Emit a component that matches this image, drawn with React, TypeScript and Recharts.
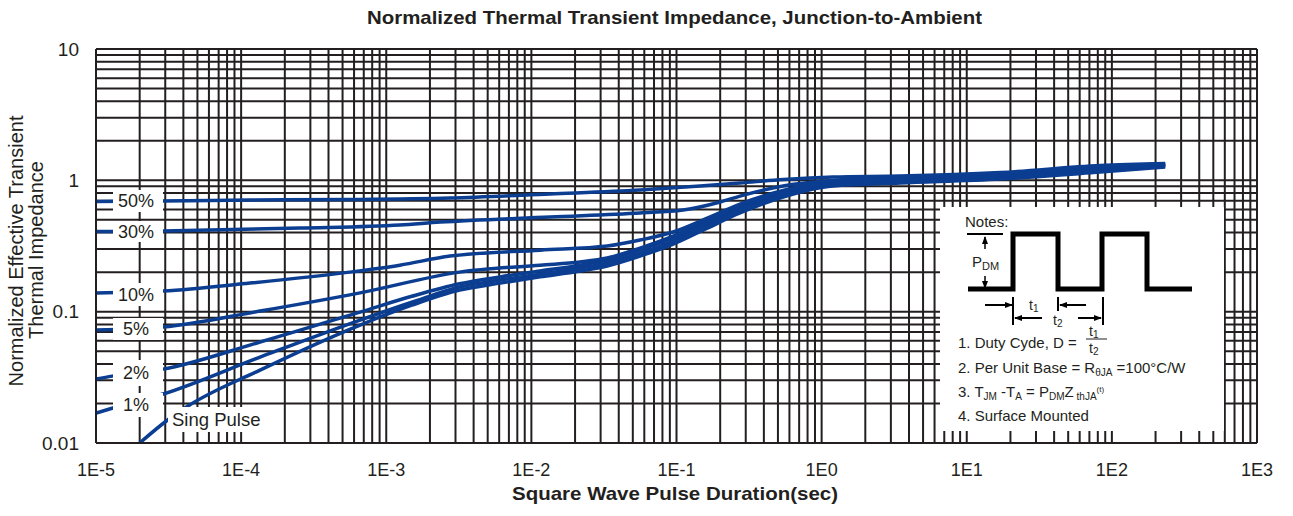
import React from 'react'
import { LineChart, Line, XAxis, YAxis, CartesianGrid } from 'recharts'

type Pt = [number, number]

// pulse duration (s), normalized Zth
const singlePulse: Pt[] = [
  [2.0e-5, 0.01], [3.1e-5, 0.0149], [4.2e-5, 0.0188], [1.35e-4, 0.0359], [6.6e-4, 0.0791],
  [1.5e-3, 0.112], [3.2e-3, 0.146], [6.1e-3, 0.165], [0.0115, 0.184], [0.0217, 0.204], [0.0333, 0.223],
  [0.0561, 0.265], [0.0948, 0.327], [0.163, 0.433], [0.274, 0.564], [0.543, 0.746],
  [1.2, 0.905], [3.48, 0.954], [17, 1.023], [83, 1.157], [233, 1.263],
]
const duty1: Pt[] = [
  [1e-5, 0.0169], [1.29e-5, 0.0184], [2.9e-5, 0.0236], [1.35e-4, 0.0451], [6.6e-4, 0.0863],
  [1.5e-3, 0.118], [3.2e-3, 0.154], [6.1e-3, 0.174], [0.0115, 0.193], [0.0217, 0.215], [0.0333, 0.235],
  [0.0561, 0.279], [0.0948, 0.345], [0.163, 0.457], [0.274, 0.594], [0.543, 0.773],
  [1.2, 0.929], [3.48, 0.979], [17, 1.05], [83, 1.188], [233, 1.285],
]
const duty2: Pt[] = [
  [1e-5, 0.0307], [1.29e-5, 0.0323], [2.9e-5, 0.0365], [1.35e-4, 0.0587], [6.6e-4, 0.0993],
  [1.5e-3, 0.131], [3.2e-3, 0.163], [6.1e-3, 0.184], [0.0115, 0.204], [0.0217, 0.226], [0.0333, 0.247],
  [0.0561, 0.295], [0.0948, 0.364], [0.163, 0.481], [0.274, 0.626], [0.543, 0.8],
  [1.2, 0.954], [3.48, 1.005], [17, 1.078], [83, 1.219], [233, 1.308],
]
const duty5: Pt[] = [
  [1e-5, 0.0724], [2.9e-5, 0.0763], [1.35e-4, 0.101], [6.6e-4, 0.139], [3.2e-3, 0.2],
  [0.0115, 0.226], [0.0217, 0.239], [0.0333, 0.256], [0.0561, 0.305], [0.0948, 0.376],
  [0.163, 0.498], [0.274, 0.643], [0.543, 0.815], [1.2, 0.962], [3.48, 1.014],
  [17, 1.088], [83, 1.23], [233, 1.308],
]
const duty10: Pt[] = [
  [1e-5, 0.139], [2.9e-5, 0.1435], [1.15e-4, 0.165], [5.6e-4, 0.2], [1.24e-3, 0.226],
  [2.75e-3, 0.265], [0.0115, 0.294], [0.0333, 0.316], [0.0561, 0.351], [0.0948, 0.404],
  [0.163, 0.516], [0.274, 0.66], [0.543, 0.836], [1.2, 0.979], [3.48, 1.032],
  [17, 1.107], [83, 1.252], [233, 1.319],
]
const duty30: Pt[] = [
  [1e-5, 0.407], [2.9e-5, 0.411], [2.55e-4, 0.433], [1.24e-3, 0.457], [2.35e-3, 0.481],
  [0.01345, 0.526], [0.0561, 0.564], [0.111, 0.594], [0.2, 0.684], [0.274, 0.759],
  [0.543, 0.905], [1.2, 0.997], [3.48, 1.05], [17, 1.127], [83, 1.274], [233, 1.331],
]
const duty50: Pt[] = [
  [1e-5, 0.6895], [2.9e-5, 0.6955], [1.15e-4, 0.708], [5.6e-4, 0.714], [2.75e-3, 0.733],
  [0.01345, 0.787], [0.0561, 0.8435], [0.1455, 0.905], [0.274, 0.954], [0.543, 1.014],
  [1.2, 1.06], [3.48, 1.078], [17, 1.147], [83, 1.296], [233, 1.343],
]

const curves = [singlePulse, duty1, duty2, duty5, duty10, duty30, duty50]

const xDecades = [-5, -4, -3, -2, -1, 0, 1, 2]
const yDecades = [-2, -1, 0]
const steps = [1, 2, 3, 4, 5, 6, 7, 8, 9]
const gridX = [...xDecades.flatMap((d) => steps.map((k) => k * 10 ** d)), 1000]
const gridY = [...yDecades.flatMap((d) => steps.map((k) => k * 10 ** d)), 10]

const INK = '#231f20'
const BLUE = '#0b3d91'
const FONT = "'Liberation Sans', Arial, Helvetica, sans-serif"

const isDecade = (v: number) => {
  const l = Math.log10(v)
  return Math.abs(l - Math.round(l)) < 1e-6
}
const fmtX = (v: number) => (isDecade(v) ? `1E${Math.round(Math.log10(v))}` : '')
const fmtY = (v: number) => (isDecade(v) ? String(+v.toPrecision(1)) : '')

const curveLabels = [
  { text: '50%', x: 113, y: 190, w: 50, h: 22 },
  { text: '30%', x: 113, y: 221, w: 50, h: 21 },
  { text: '10%', x: 113, y: 283, w: 50, h: 23 },
  { text: '5%', x: 113, y: 318, w: 50, h: 22 },
  { text: '2%', x: 113, y: 360, w: 50, h: 26 },
  { text: '1%', x: 113, y: 393, w: 50, h: 24 },
]

function Overlay() {
  return (
    <svg width={1293} height={516} style={{ position: 'absolute', left: 0, top: 0, pointerEvents: 'none' }} fontFamily={FONT}>
      <defs>
        <marker id="ah" markerWidth="8" markerHeight="8" refX="7" refY="4" orient="auto" markerUnits="userSpaceOnUse">
          <path d="M0,1 L8,4 L0,7 z" fill="#000" />
        </marker>
      </defs>

      <text x={367} y={24} fontSize={19} fontWeight="bold" fill={INK} textLength={615} lengthAdjust="spacingAndGlyphs">
        Normalized Thermal Transient Impedance, Junction-to-Ambient
      </text>
      <text x={512} y={500} fontSize={19} fontWeight="bold" fill={INK} textLength={326} lengthAdjust="spacingAndGlyphs">
        Square Wave Pulse Duration(sec)
      </text>
      <text transform="translate(23,251) rotate(-90)" textAnchor="middle" fontSize={20} fill={INK}>
        Normalized Effective Transient
      </text>
      <text transform="translate(43,250) rotate(-90)" textAnchor="middle" fontSize={20} fill={INK}>
        Thermal Impedance
      </text>

      {curveLabels.map((l) => (
        <g key={l.text}>
          <rect x={l.x} y={l.y} width={l.w} height={l.h} fill="#fff" />
          <text x={l.x + l.w / 2 - 2} y={l.y + l.h / 2 + 6} textAnchor="middle" fontSize={18} fill={INK}>
            {l.text}
          </text>
        </g>
      ))}
      <rect x={168} y={407} width={108} height={25} fill="#fff" />
      <text x={172} y={426} fontSize={18.5} fill={INK}>Sing Pulse</text>

      {/* notes box */}
      <rect x={940} y={207} width={284} height={224} fill="#fff" />
      <text x={965} y={227} fontSize={15} fill={INK}>Notes:</text>
      <polyline
        points="968,289 1013,289 1013,234 1058,234 1058,289 1102,289 1102,234 1147,234 1147,289 1192,289"
        fill="none" stroke="#000" strokeWidth={5}
      />
      <line x1={967} y1={234} x2={1003} y2={234} stroke="#000" strokeWidth={2} />
      <line x1={985} y1={249} x2={985} y2={237} stroke="#000" strokeWidth={1.5} markerEnd="url(#ah)" />
      <text x={972} y={267} fontSize={15} fill={INK}>P<tspan fontSize={11} dy={3}>DM</tspan></text>
      <line x1={985} y1={276} x2={985} y2={288} stroke="#000" strokeWidth={1.5} markerEnd="url(#ah)" />

      <line x1={985} y1={305} x2={1012} y2={305} stroke="#000" strokeWidth={2} markerEnd="url(#ah)" />
      <line x1={1013} y1={297} x2={1013} y2={325} stroke="#000" strokeWidth={2} />
      <line x1={1042} y1={318} x2={1015} y2={318} stroke="#000" strokeWidth={2} markerEnd="url(#ah)" />
      <text x={1029} y={310} fontSize={14} fill={INK}>t<tspan fontSize={10} dy={2}>1</tspan></text>
      <line x1={1058} y1={297} x2={1058} y2={311} stroke="#000" strokeWidth={2} />
      <line x1={1086} y1={305} x2={1060} y2={305} stroke="#000" strokeWidth={2} markerEnd="url(#ah)" />
      <text x={1053} y={325} fontSize={14} fill={INK}>t<tspan fontSize={10} dy={2}>2</tspan></text>
      <line x1={1078} y1={318} x2={1101} y2={318} stroke="#000" strokeWidth={2} markerEnd="url(#ah)" />
      <line x1={1103} y1={297} x2={1103} y2={325} stroke="#000" strokeWidth={2} />

      <text x={958} y={348} fontSize={15} fill={INK}>1. Duty Cyde, D =</text>
      <text x={1089} y={336} fontSize={14} fill={INK}>t<tspan fontSize={10} dy={2}>1</tspan></text>
      <line x1={1086} y1={339} x2={1107} y2={339} stroke={INK} strokeWidth={1} />
      <text x={1089} y={353} fontSize={14} fill={INK}>t<tspan fontSize={10} dy={2}>2</tspan></text>

      <text x={958} y={373} fontSize={15} fill={INK}>
        2. Per Unit Base = R<tspan fontSize={10} dy={3}>θJA</tspan><tspan dy={-3}>{'  '}=100°C/W</tspan>
      </text>
      <text x={958} y={397} fontSize={15} fill={INK}>
        3. T<tspan fontSize={10} dy={3}>JM</tspan><tspan dy={-3}> -T</tspan><tspan fontSize={10} dy={3}>A</tspan>
        <tspan dy={-3}> = P</tspan><tspan fontSize={10} dy={3}>DM</tspan><tspan dy={-3}>Z</tspan>
        <tspan fontSize={10} dy={3}> thJA</tspan><tspan fontSize={8} dy={-8}>(t)</tspan>
      </text>
      <text x={958} y={421} fontSize={15} fill={INK}>4. Surface Mounted</text>
    </svg>
  )
}

export default function App() {
  return (
    <div style={{ position: 'absolute', left: 0, top: 0, width: 1293, height: 516, background: '#fff' }}>
      <LineChart width={1293} height={516} margin={{ top: 49, right: 36, bottom: 43, left: 16 }}>
        <CartesianGrid stroke={INK} strokeWidth={2} strokeOpacity={1} />
        <XAxis
          type="number"
          dataKey="x"
          scale="log"
          domain={[1e-5, 1000]}
          ticks={gridX}
          interval={0}
          tickFormatter={fmtX}
          tickSize={0}
          tickMargin={20}
          height={30}
          allowDataOverflow
          axisLine={{ stroke: INK, strokeWidth: 2 }}
          tick={{ fontSize: 18, fill: INK, fontFamily: FONT }}
        />
        <YAxis
          type="number"
          scale="log"
          domain={[0.01, 10]}
          ticks={gridY}
          interval={0}
          tickFormatter={fmtY}
          width={80}
          tickSize={0}
          tickMargin={17}
          allowDataOverflow
          axisLine={{ stroke: INK, strokeWidth: 2 }}
          tick={{ fontSize: 19, fill: INK, fontFamily: FONT }}
        />
        {curves.map((c, i) => (
          <Line
            key={i}
            data={c.map(([x, y]) => ({ x, y }))}
            dataKey="y"
            type="monotone"
            dot={false}
            stroke={BLUE}
            strokeWidth={3.5}
            isAnimationActive={false}
          />
        ))}
      </LineChart>
      <Overlay />
    </div>
  )
}
